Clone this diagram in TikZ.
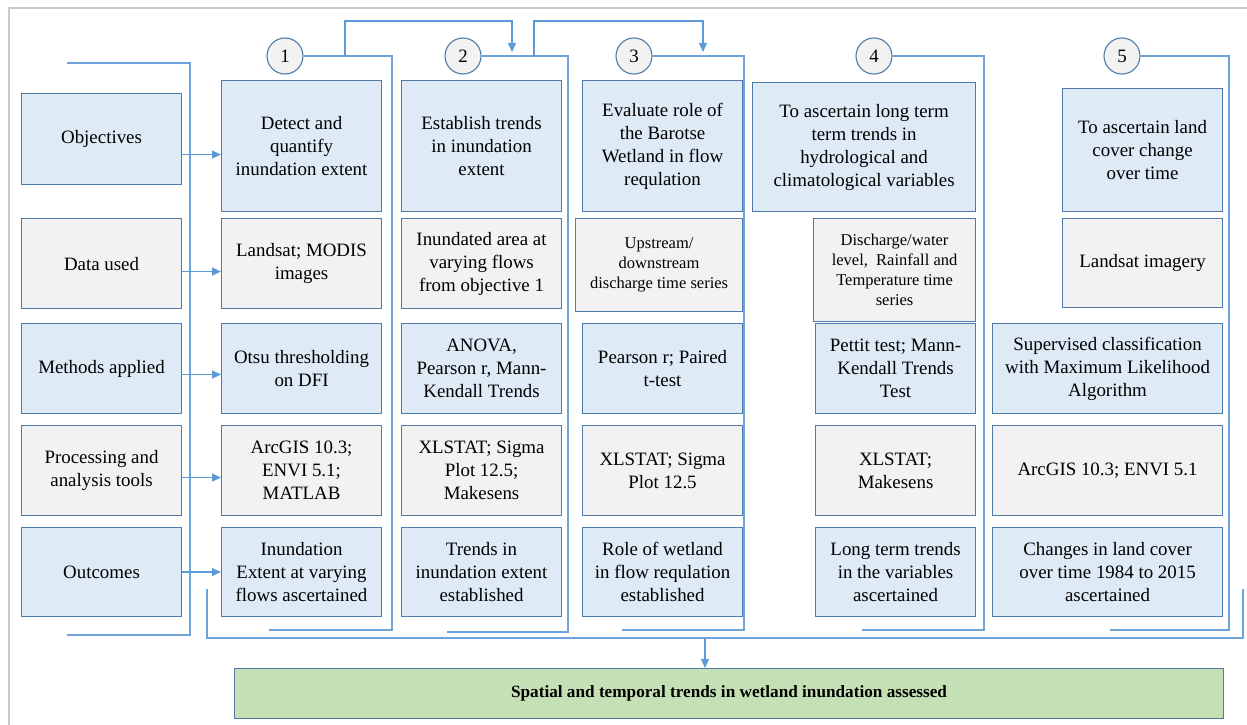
\documentclass[tikz,border=0pt]{standalone}
\usepackage{fontspec}
\setmainfont{LiberationSerif}[Extension=.ttf,UprightFont=*-Regular,BoldFont=*-Bold]
\usetikzlibrary{arrows.meta,calc}
\definecolor{bfill}{HTML}{DEEAF6}
\definecolor{gfill}{HTML}{F2F2F2}
\definecolor{bline}{HTML}{4F7BAA}
\definecolor{cline}{HTML}{6FA3DC}
\definecolor{aline}{HTML}{5B9BD5}
\definecolor{okgreen}{HTML}{C5E0B4}
\definecolor{framegray}{HTML}{C8C8C8}
\newcommand\bx[7]{\node[#2,minimum width={(#5-#3)*1pt},minimum height={(#6-#4)*1pt}] (#1) at (#3,#4) {#7};}
\begin{document}
\begin{tikzpicture}[x=1pt,y=-1pt,
 base/.style={draw=bline,line width=1.1pt,align=center,inner sep=0pt,anchor=north west,font=\fontsize{18.9}{23}\selectfont},
 bbox/.style={base,fill=bfill},
 gbox/.style={base,fill=gfill},
 small/.style={font=\fontsize{16.5}{20}\selectfont},
 num/.style={circle,draw=bline,fill=gfill,line width=1.1pt,minimum size=36pt,inner sep=0pt,font=\fontsize{18.9}{23}\selectfont},
 conn/.style={draw=cline,line width=1.1pt},
 arr/.style={draw=aline,line width=1.2pt,-{Triangle[length=9pt,width=8pt]}},
]
\useasboundingbox (0,0) rectangle (1247,725);
\draw[framegray,line width=2pt] (9,725) -- (9,8) -- (1247,8);

% left column
\bx{L1}{bbox}{21}{93}{181}{184}{Objectives}
\bx{L2}{gbox}{21}{218}{181}{308}{Data used}
\bx{L3}{bbox}{21}{323}{181}{413}{Methods applied}
\bx{L4}{gbox}{21}{425}{181}{515}{Processing and\\analysis tools}
\bx{L5}{bbox}{21}{527}{181}{616}{Outcomes}

% column 1
\bx{c11}{bbox}{221}{80}{381}{211}{Detect and\\quantify\\inundation extent}
\bx{c12}{gbox}{221}{218}{381}{308}{Landsat; MODIS\\images}
\bx{c13}{bbox}{221}{323}{381}{413}{Otsu thresholding\\on DFI}
\bx{c14}{gbox}{221}{425}{381}{515}{ArcGIS 10.3;\\ENVI 5.1;\\MATLAB}
\bx{c15}{bbox}{221}{527}{381}{616}{Inundation\\Extent at varying\\flows ascertained}

% column 2
\bx{c21}{bbox}{401}{80}{561}{211}{Establish trends\\in inundation\\extent}
\bx{c22}{gbox}{401}{218}{561}{308}{Inundated area at\\varying flows\\from objective 1}
\bx{c23}{bbox}{401}{323}{561}{413}{ANOVA,\\Pearson r, Mann-\\Kendall Trends}
\bx{c24}{gbox}{401}{425}{561}{515}{XLSTAT; Sigma\\Plot 12.5;\\Makesens}
\bx{c25}{bbox}{401}{527}{561}{616}{Trends in\\inundation extent\\established}

% column 3
\bx{c31}{bbox}{582}{80}{742}{211}{Evaluate role of\\the Barotse\\Wetland in flow\\requlation}
\bx{c32}{gbox,small}{575}{218}{742}{311}{Upstream/\\downstream\\discharge time series}
\bx{c33}{bbox}{582}{323}{742}{413}{Pearson r; Paired\\t-test}
\bx{c34}{gbox}{582}{425}{742}{515}{XLSTAT; Sigma\\Plot 12.5}
\bx{c35}{bbox}{582}{527}{742}{616}{Role of wetland\\in flow requlation\\established}

% column 4
\bx{c41}{bbox}{752}{82}{975}{211}{To ascertain long term\\term trends in\\hydrological and\\climatological variables}
\bx{c42}{gbox,small}{813}{218}{975}{321}{Discharge/water\\level,\ \ Rainfall and\\Temperature time\\series}
\bx{c43}{bbox}{815}{323}{975}{413}{Pettit test; Mann-\\Kendall Trends\\Test}
\bx{c44}{gbox}{815}{425}{975}{515}{XLSTAT;\\Makesens}
\bx{c45}{bbox}{815}{527}{975}{616}{Long term trends\\in the variables\\ascertained}

% column 5
\bx{c51}{bbox}{1062}{88}{1222}{211}{To ascertain land\\cover change\\over time}
\bx{c52}{gbox}{1062}{218}{1222}{307}{Landsat imagery}
\bx{c53}{bbox}{992}{323}{1222}{413}{Supervised classification\\with Maximum Likelihood\\Algorithm}
\bx{c54}{gbox}{992}{425}{1222}{515}{ArcGIS 10.3; ENVI 5.1}
\bx{c55}{bbox}{992}{527}{1222}{616}{Changes in land cover\\over time 1984 to 2015\\ascertained}

% goal
\node[base,fill=okgreen,minimum width=989pt,minimum height=50pt,font=\bfseries\fontsize{17.2}{20}\selectfont] (goal) at (234,668) {Spatial and temporal trends in wetland inundation assessed};

% circles
\node[num] (n1) at (285,56) {1};
\node[num] (n2) at (463,56) {2};
\node[num] (n3) at (634,56) {3};
\node[num] (n4) at (874,56) {4};
\node[num] (n5) at (1122,56) {5};

% left bracket
\coordinate (la) at (67,63);
\coordinate (lb) at (190,63);
\coordinate (lc) at (190,635);
\coordinate (ld) at (67,635);
\draw[conn] (la) -- (lb) -- (lc) -- (ld);

% column brackets
\coordinate (b1) at (392,630); \coordinate (e1) at (269,630);
\coordinate (b2) at (568,632); \coordinate (e2) at (447,632);
\coordinate (b3) at (744,630); \coordinate (e3) at (622,630);
\coordinate (b4) at (984,630); \coordinate (e4) at (862,630);
\coordinate (b5) at (1229,630); \coordinate (e5) at (1110,630);
\draw[conn] (n1.east) -| (b1) -- (e1);
\draw[conn] (n2.east) -| (b2) -- (e2);
\draw[conn] (n3.east) -| (b3) -- (e3);
\draw[conn] (n4.east) -| (b4) -- (e4);
\draw[conn] (n5.east) -| (b5) -- (e5);

% top links
\coordinate (t1) at (345,56); \coordinate (u1) at (345,21); \coordinate (v1) at (512,21); \coordinate (h2) at (512,52);
\coordinate (t2) at (534,56); \coordinate (u2) at (534,21); \coordinate (v2) at (703,21); \coordinate (h3) at (703,52);
\draw[arr] (t1) -- (u1) -- (v1) -- (h2);
\draw[arr] (t2) -- (u2) -- (v2) -- (h3);

% row arrows
\draw[arr] ([yshift=-15.5pt]L1.east) -- ([yshift=-8.5pt]c11.west);
\draw[arr] ([yshift=-8pt]L2.east) -- ([yshift=-8pt]c12.west);
\draw[arr] ([yshift=-6pt]L3.east) -- ([yshift=-6pt]c13.west);
\draw[arr] ([yshift=-7pt]L4.east) -- ([yshift=-7pt]c14.west);
\draw[arr] (L5.east) -- (c15.west);

% big bracket
\coordinate (ga) at (207,589);
\coordinate (gb) at (207,638);
\coordinate (gc) at (1243,638);
\coordinate (gd) at (1243,589);
\draw[conn] (ga) -- (gb) -- (gc) -- (gd);
\coordinate (gm) at (705,638);
\draw[arr] (gm) -- (gm |- goal.north);
\end{tikzpicture}
\end{document}
